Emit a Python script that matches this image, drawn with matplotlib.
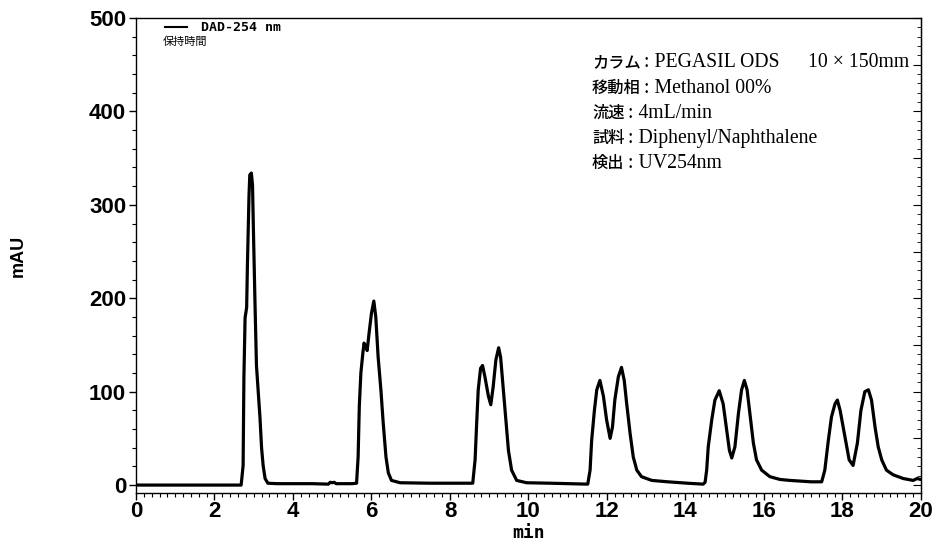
import numpy as np
import matplotlib.pyplot as plt
from matplotlib.ticker import MultipleLocator
from matplotlib.lines import Line2D

# chromatogram trace (min, mAU)
time_min = [0.0, 2.68, 2.73, 2.75, 2.78, 2.82, 2.84, 2.88, 2.90, 2.94, 2.97, 2.99,
            3.03, 3.07, 3.16, 3.20, 3.24, 3.29, 3.36, 3.60, 4.50, 4.90, 4.95, 5.00,
            5.05, 5.10, 5.50, 5.62, 5.66, 5.69, 5.73, 5.78, 5.81, 5.86, 5.89, 5.94,
            6.00, 6.06, 6.11, 6.17, 6.24, 6.30, 6.37, 6.43, 6.51, 6.73, 7.49, 8.50,
            8.58, 8.64, 8.68, 8.72, 8.78, 8.83, 8.89, 8.98, 9.04, 9.10, 9.17, 9.24,
            9.29, 9.36, 9.43, 9.49, 9.57, 9.70, 9.95, 10.55, 11.45, 11.51, 11.57,
            11.61, 11.68, 11.74, 11.82, 11.91, 11.99, 12.08, 12.14, 12.20, 12.29,
            12.37, 12.44, 12.50, 12.59, 12.67, 12.76, 12.88, 13.14, 13.55, 14.05,
            14.45, 14.50, 14.54, 14.58, 14.67, 14.75, 14.86, 14.96, 15.05, 15.12,
            15.18, 15.26, 15.35, 15.43, 15.50, 15.57, 15.64, 15.73, 15.81, 15.94,
            16.15, 16.41, 16.66, 17.20, 17.47, 17.55, 17.64, 17.72, 17.81, 17.87,
            17.94, 18.06, 18.17, 18.27, 18.38, 18.47, 18.57, 18.66, 18.74, 18.83,
            18.91, 19.00, 19.12, 19.29, 19.55, 19.80, 19.90, 20.0]
signal_mau = [0, 0, 21, 115, 179, 190, 236, 310, 332, 334, 321, 278,
              200, 128, 72, 40, 21, 7, 2, 1.5, 1.5, 1, 3, 2.5,
              3, 1.5, 1.5, 2, 30, 84, 120, 141, 152, 148, 144, 163,
              184, 197, 180, 137, 102, 66, 30, 13, 5, 2.5, 2, 2,
              2, 27, 66, 102, 125, 128, 116, 95, 86, 105, 134, 147,
              137, 102, 66, 37, 16, 5, 2.5, 2, 1, 1, 16,
              48, 80, 102, 112, 95, 70, 50, 62, 91, 116,
              126, 112, 88, 55, 30, 16, 9, 5, 3.5, 2,
              1, 3, 16, 41, 70, 91, 101, 87, 59, 37,
              29, 41, 77, 102, 112, 102, 77, 45, 27, 16,
              9, 6, 5, 3.5, 3.5, 16, 48, 73, 87, 91,
              80, 52, 27, 21, 45, 80, 100, 102, 91, 62,
              41, 27, 16, 11, 7, 5, 7, 6]

conditions_jp = ['カラム', '移動相', '流速', '試料', '検出']
conditions_val = ['PEGASIL ODS', 'Methanol 00%', '4mL/min',
                  'Diphenyl/Naphthalene', 'UV254nm']
column_size = '10 × 150mm'

fig = plt.figure(figsize=(9.37, 5.5), dpi=100)
ax = fig.add_axes([0.1451, 0.1036, 0.8378, 0.8637])

ax.plot(time_min, signal_mau, color='black', lw=2.3,
        solid_joinstyle='round', solid_capstyle='round')

ax.set_xlim(0, 20)
ax.set_ylim(-8.5, 500)
ax.xaxis.set_major_locator(MultipleLocator(2))
ax.xaxis.set_minor_locator(MultipleLocator(0.2))
ax.yaxis.set_major_locator(MultipleLocator(100))
ax.yaxis.set_minor_locator(MultipleLocator(20))
ax.tick_params(which='major', length=5, width=1, direction='out', pad=2)
ax.tick_params(which='minor', length=3, width=0.8, direction='out')
ax.tick_params(axis='x', which='major', pad=1)
for s in ax.spines.values():
    s.set_linewidth(1)

tick_font = dict(family='Liberation Sans', weight='bold', size=16)
for lab in ax.get_xticklabels() + ax.get_yticklabels():
    lab.set_fontproperties(tick_font)

# right side ticks point inwards
ax_r = ax.secondary_yaxis('right')
ax_r.yaxis.set_major_locator(MultipleLocator(50))
ax_r.yaxis.set_minor_locator(MultipleLocator(10))
ax_r.tick_params(which='major', direction='in', length=6, labelright=False)
ax_r.tick_params(which='minor', direction='in', length=3)

ax.set_xlabel('min', family='DejaVu Sans Mono', weight='bold', size=13)
ax.xaxis.set_label_coords(0.5, -0.065)
ax.set_ylabel('mAU', family='Liberation Sans', weight='bold', size=13)
ax.yaxis.set_label_coords(-0.139, 0.5)

# legend
h = Line2D([], [], color='black', lw=1.5)
ax.legend([h], ['DAD-254 nm'], loc='upper left', bbox_to_anchor=(0.028, 1.007),
          frameon=False, handlelength=1.7, handletextpad=1.1, borderpad=0,
          prop=dict(family='DejaVu Sans Mono', weight='bold', size=9.5))
ax.text(0.034, 0.949, '保持時間', transform=ax.transAxes, va='center', ha='left',
        family=['Noto Sans CJK JP', 'DejaVu Sans'], size=8)

# conditions block: gothic japanese labels, serif values
jp_size = 11.7
char_w = jp_size / 72 * 100 / 39.25   # one CJK glyph width in minutes
x0 = 11.62
y0 = 447
for i, (jp, val) in enumerate(zip(conditions_jp, conditions_val)):
    y = y0 - i * 26.8
    ax.text(x0, y, jp, va='baseline', ha='left', family='Noto Sans CJK JP',
            weight='medium', size=jp_size)
    ax.text(x0 + len(jp) * char_w + 0.09, y, ': ' + val, va='baseline', ha='left',
            family='Liberation Serif', size=14.2)
ax.text(17.12, y0, column_size, va='baseline', ha='left',
        family='Liberation Serif', size=14.2)

fig.savefig('out.png', dpi=100)
